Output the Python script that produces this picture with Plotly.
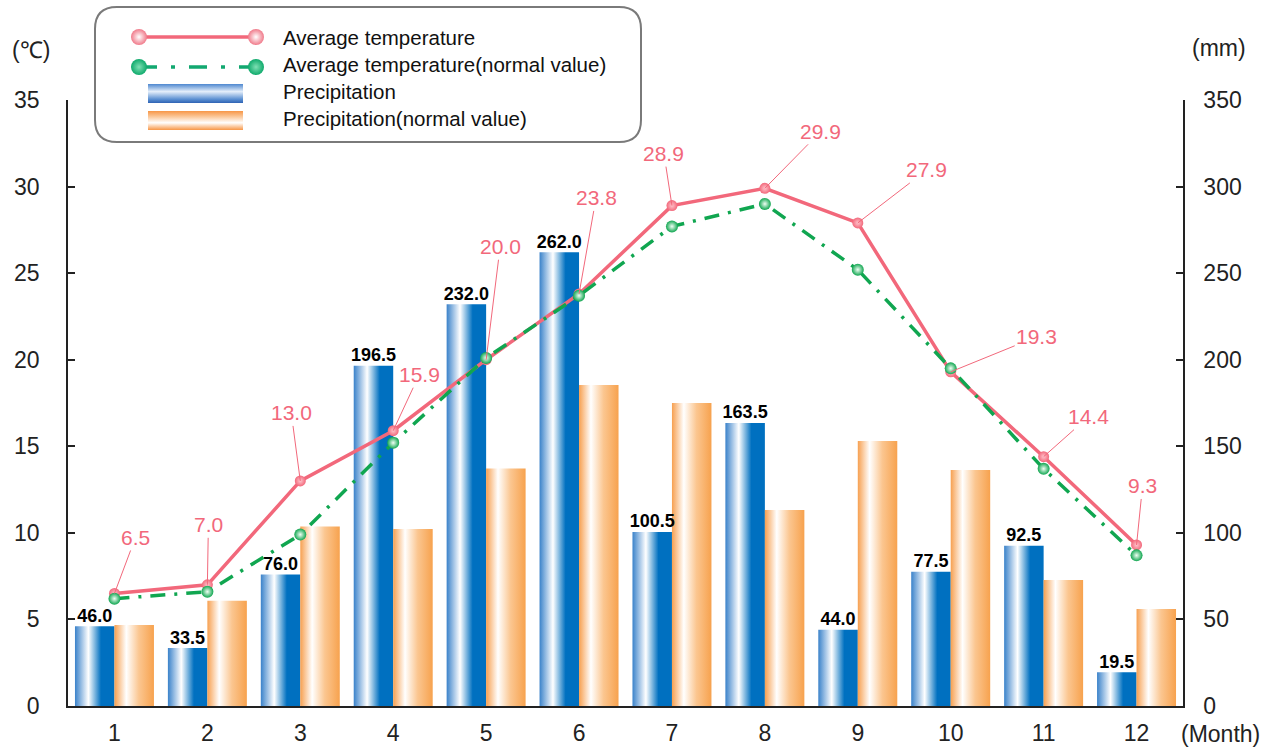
import plotly.graph_objects as go

# ---------------- data ----------------
months = list(range(1, 13))
month_labels = [str(m) for m in months]
temp = [6.5, 7.0, 13.0, 15.9, 20.0, 23.8, 28.9, 29.9, 27.9, 19.3, 14.4, 9.3]
temp_normal = [6.2, 6.6, 9.9, 15.2, 20.1, 23.7, 27.7, 29.0, 25.2, 19.5, 13.7, 8.7]
precip = [46.0, 33.5, 76.0, 196.5, 232.0, 262.0, 100.5, 163.5, 44.0, 77.5, 92.5, 19.5]
precip_normal = [46.8, 60.8, 103.6, 102.2, 137.1, 185.4, 175.0, 113.2, 153.1, 136.3, 72.8, 56.0]
temp_ticks = [0, 5, 10, 15, 20, 25, 30, 35]
precip_ticks = [0, 50, 100, 150, 200, 250, 300, 350]
series_names = ["Average temperature", "Average temperature(normal value)",
                "Precipitation", "Precipitation(normal value)"]

# ---------------- style ----------------
W, H = 1283, 750
ML, MR, MT, MB = 68, 100, 2, 44
PW, PH = W - ML - MR, H - MT - MB
FONT = "Liberation Sans, Arial, sans-serif"
PINK = "#f2687b"
GREEN = "#10a650"
BLUE_SCALE = [[0, "#3a82ca"], [0.34, "#ffffff"], [0.66, "#0070c0"], [1, "#0070c0"]]
ORANGE_SCALE = [[0, "#f7a050"], [0.3, "#ffffff"], [0.62, "#fbc690"], [1, "#f7a24e"]]
BAR_W = 0.425
# pixel offsets of temperature labels relative to their points
label_offsets = [(21, -56), (1, -60), (-9, -68), (26, -56), (14, -113), (17, -96),
                 (-8, -52), (56, -57), (69, -53), (86, -35), (45, -40), (6, -59)]


def py(ypix):
    return (H - MB - ypix) / PH


def px(xpix):
    return (xpix - ML) / PW


fig = go.Figure()

# ---- bars drawn as gradient-filled rectangles (on primary y: mm) ----
for m, v in zip(months, precip):
    fig.add_trace(go.Scatter(
        x=[m - BAR_W, m - BAR_W, m, m, m - BAR_W], y=[0, v, v, 0, 0],
        mode="lines", line=dict(width=0), fill="toself",
        fillgradient=dict(type="horizontal", colorscale=BLUE_SCALE),
        hoverinfo="skip", showlegend=False, xaxis="x", yaxis="y"))
for m, v in zip(months, precip_normal):
    fig.add_trace(go.Scatter(
        x=[m, m, m + BAR_W, m + BAR_W, m], y=[0, v, v, 0, 0],
        mode="lines", line=dict(width=0), fill="toself",
        fillgradient=dict(type="horizontal", colorscale=ORANGE_SCALE),
        hoverinfo="skip", showlegend=False, xaxis="x", yaxis="y"))

# precipitation value labels
fig.add_trace(go.Scatter(
    x=[m - BAR_W / 2 for m in months], y=precip, mode="text",
    text=[f"<b>{v:.1f}</b>" for v in precip], textposition="top center",
    textfont=dict(family=FONT, size=18, color="#000000"),
    hoverinfo="skip", showlegend=False, cliponaxis=False, xaxis="x", yaxis="y"))

# ---- temperature lines (on y2: °C, left side) ----
fig.add_trace(go.Scatter(
    x=months, y=temp, mode="lines+markers", name=series_names[0],
    line=dict(color=PINK, width=3.5),
    marker=dict(size=11, color=PINK, gradient=dict(type="radial", color="#ffc4cc")),
    showlegend=False, xaxis="x", yaxis="y2"))
fig.add_trace(go.Scatter(
    x=months, y=temp_normal, mode="lines+markers", name=series_names[1],
    line=dict(color=GREEN, width=3.5, dash="15px,9px,3px,9px"),
    marker=dict(size=12, color=GREEN, gradient=dict(type="radial", color="#f0fff4")),
    showlegend=False, xaxis="x", yaxis="y2"))

annotations = []
for m, v, (ax, ay) in zip(months, temp, label_offsets):
    annotations.append(dict(
        x=m, y=v, xref="x", yref="y2", text=f"{v:.1f}", showarrow=True,
        arrowhead=0, arrowwidth=1, arrowcolor=PINK, ax=ax, ay=ay, standoff=0,
        font=dict(family=FONT, size=21, color=PINK)))

# ---- custom legend on an auxiliary pixel-coordinate axis pair ----
LX0, LX1, LY0, LY1 = 88, 648, 2, 150
lg = dict(xaxis="x3", yaxis="y3", hoverinfo="skip", showlegend=False)
fig.add_trace(go.Scatter(
    x=[139, 256], y=[37, 37], mode="lines+markers",
    line=dict(color=PINK, width=3.5),
    marker=dict(size=16, color="#f07a8a", gradient=dict(type="radial", color="#ffffff")), **lg))
fig.add_trace(go.Scatter(
    x=[139, 256], y=[67, 67], mode="lines+markers",
    line=dict(color="#12a870", width=3.5, dash="18px,14px,4px,14px"),
    marker=dict(size=16, color="#0faa6c", gradient=dict(type="radial", color="#7fe0b4")), **lg))
fig.add_trace(go.Scatter(
    x=[148, 148, 243, 243, 148], y=[84, 103, 103, 84, 84], mode="lines",
    line=dict(width=0), fill="toself",
    fillgradient=dict(type="vertical", colorscale=[[0, "#2f63b4"], [0.2, "#5b90d2"],
                                                   [0.6, "#e4eefa"], [1, "#4e88d0"]]), **lg))
fig.add_trace(go.Scatter(
    x=[148, 148, 243, 243, 148], y=[111, 130, 130, 111, 111], mode="lines",
    line=dict(width=0), fill="toself",
    fillgradient=dict(type="vertical", colorscale=[[0, "#f79646"], [0.38, "#ffffff"],
                                                   [0.7, "#fbc89a"], [1, "#f79646"]]), **lg))
for name, ytxt in zip(series_names, [37, 64, 91, 118]):
    annotations.append(dict(
        x=281, y=ytxt, xref="x3", yref="y3", text=name, showarrow=False,
        xanchor="left", yanchor="middle", font=dict(family=FONT, size=20.5, color="#111111")))

# rounded legend box
bx0, bx1, by0, by1, r = 95, 641, 7, 142, 22
box_path = (f"M {bx0 + r},{by0} L {bx1 - r},{by0} Q {bx1},{by0} {bx1},{by0 + r} "
            f"L {bx1},{by1 - r} Q {bx1},{by1} {bx1 - r},{by1} L {bx0 + r},{by1} "
            f"Q {bx0},{by1} {bx0},{by1 - r} L {bx0},{by0 + r} Q {bx0},{by0} {bx0 + r},{by0} Z")
shapes = [dict(type="path", path=box_path, xref="x3", yref="y3", layer="below",
               line=dict(color="#7a7a7a", width=2), fillcolor="rgba(255,255,255,0)")]

# unit labels
unit_font = dict(family=FONT, size=23, color="#222222")
annotations += [
    dict(x=px(31), y=py(50), xref="paper", yref="paper", text="(℃)", showarrow=False,
         xanchor="center", yanchor="middle", font=unit_font),
    dict(x=px(1219), y=py(48), xref="paper", yref="paper", text="(mm)", showarrow=False,
         xanchor="center", yanchor="middle", font=unit_font),
    dict(x=px(1220), y=py(734), xref="paper", yref="paper", text="(Month)", showarrow=False,
         xanchor="center", yanchor="middle", font=unit_font),
]

axis_common = dict(showgrid=False, zeroline=False, showline=True, linecolor="#222222",
                   linewidth=1.5, automargin=False,
                   tickfont=dict(family=FONT, size=23, color="#222222"))
top_dom = py(100)

fig.update_layout(
    width=W, height=H, margin=dict(l=ML, r=MR, t=MT, b=MB, autoexpand=False),
    paper_bgcolor="white", plot_bgcolor="rgba(0,0,0,0)", showlegend=False,
    font=dict(family=FONT),
    xaxis=dict(domain=[0, 1], range=[0.5, 12.5], tickmode="array", tickvals=months,
               ticktext=month_labels, ticks="", ticklabelstandoff=6, anchor="y",
               **axis_common),
    yaxis=dict(domain=[0, top_dom], range=[0, 350], side="right", anchor="x",
               tickmode="array", tickvals=precip_ticks, ticks="inside", ticklen=7,
               tickcolor="#222222", tickwidth=1.5, ticklabelstandoff=14, **axis_common),
    yaxis2=dict(overlaying="y", range=[0, 35], side="left", anchor="x",
                tickmode="array", tickvals=temp_ticks, ticks="inside", ticklen=7,
                tickcolor="#222222", tickwidth=1.5, ticklabelstandoff=22, **axis_common),
    xaxis3=dict(domain=[px(LX0), px(LX1)], range=[LX0, LX1], visible=False,
                anchor="y3", fixedrange=True, automargin=False),
    yaxis3=dict(domain=[py(LY1), min(1.0, py(LY0))], range=[LY1, LY0], visible=False,
                anchor="x3", fixedrange=True, automargin=False),
    annotations=annotations, shapes=shapes,
)

fig.write_html(
    "out.html", config={"displayModeBar": False},
    post_script="document.body.style.margin='0';document.body.style.overflow='hidden';")
